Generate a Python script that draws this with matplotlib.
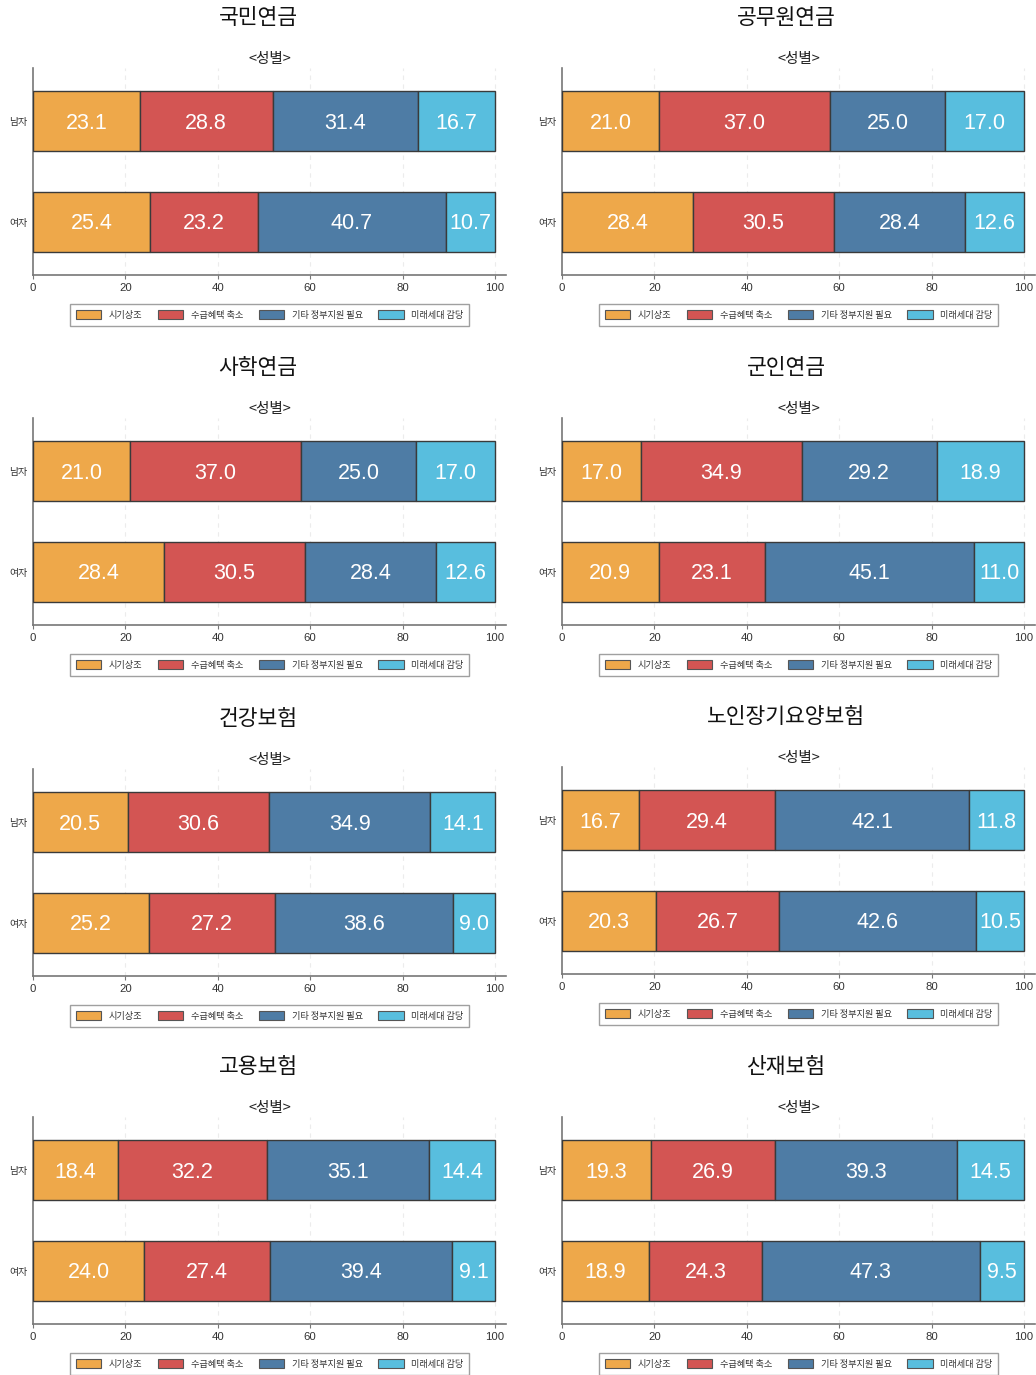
import matplotlib
matplotlib.use("Agg")
import matplotlib.pyplot as plt
from matplotlib.patches import Patch

# ---- data -------------------------------------------------------------
titles = ["국민연금", "공무원연금", "사학연금", "군인연금",
          "건강보험", "노인장기요양보험", "고용보험", "산재보험"]
subtitle = "<성별>"
groups = ["남자", "여자"]
categories = ["시기상조", "수급혜택 축소", "기타 정부지원 필요", "미래세대 감당"]

male = [
    [23.1, 28.8, 31.4, 16.7],
    [21.0, 37.0, 25.0, 17.0],
    [21.0, 37.0, 25.0, 17.0],
    [17.0, 34.9, 29.2, 18.9],
    [20.5, 30.6, 34.9, 14.1],
    [16.7, 29.4, 42.1, 11.8],
    [18.4, 32.2, 35.1, 14.4],
    [19.3, 26.9, 39.3, 14.5],
]
female = [
    [25.4, 23.2, 40.7, 10.7],
    [28.4, 30.5, 28.4, 12.6],
    [28.4, 30.5, 28.4, 12.6],
    [20.9, 23.1, 45.1, 11.0],
    [25.2, 27.2, 38.6, 9.0],
    [20.3, 26.7, 42.6, 10.5],
    [24.0, 27.4, 39.4, 9.1],
    [18.9, 24.3, 47.3, 9.5],
]
xticks = [0, 20, 40, 60, 80, 100]

colors = ["#EEA84A", "#D35553", "#4E7CA5", "#58BEDE"]

# ---- layout (pixels) --------------------------------------------------
W, H = 1036, 1375
fig = plt.figure(figsize=(W / 100, H / 100), dpi=100)

KR = ["Noto Sans CJK KR", "DejaVu Sans"]
NUM = ["Liberation Sans", "DejaVu Sans"]

col_left = [33, 562]
col_center = [258, 786]
row_top = [[68, 68], [418, 418], [769, 767], [1117, 1117]]
span = 462          # pixels for 0..100
ax_w = span * 1.024
ax_h = 207


def px_axes(left, top, width, height):
    return fig.add_axes([left / W, 1 - (top + height) / H, width / W, height / H])


for i, title in enumerate(titles):
    r, c = divmod(i, 2)
    left = col_left[c]
    top = row_top[r][c]
    ax = px_axes(left, top, ax_w, ax_h)

    ypos = [1, 0]
    rows = [male[i], female[i]]
    for y, vals in zip(ypos, rows):
        start = 0.0
        for k, v in enumerate(vals):
            ax.barh(y, v, left=start, height=0.6, color=colors[k],
                    edgecolor="#3a3a3a", linewidth=1.0, zorder=3)
            ax.text(start + v / 2, y - 0.02, f"{v:.1f}", ha="center",
                    va="center", color="white", fontsize=15.5, family=NUM,
                    zorder=4)
            start += v

    ax.set_xlim(0, 102.4)
    ax.set_ylim(-0.53, 1.53)
    ax.set_yticks(ypos)
    ax.set_yticklabels(groups, family=KR, fontsize=7.2, color="#333333")
    ax.set_xticks(xticks)
    ax.set_xticklabels([str(t) for t in xticks], family=NUM, fontsize=8.2,
                       color="#333333")
    ax.tick_params(axis="y", length=0, pad=4)
    ax.tick_params(axis="x", length=3, width=0.8, color="#777777", pad=3)
    for t in xticks[1:]:
        ax.axvline(t, color="#ececec", linestyle=(0, (4, 4)), linewidth=0.8,
                   zorder=1)
    for s in ["top", "right"]:
        ax.spines[s].set_visible(False)
    for s in ["left", "bottom"]:
        ax.spines[s].set_color("#777777")
        ax.spines[s].set_linewidth(1.2)

    axis_cx = (left + left + ax_w) / 2
    fig.text(col_center[c] / W, 1 - (top - 50) / H, title, ha="center",
             va="center", fontsize=15.5, family=KR, color="#111111")
    fig.text(axis_cx / W, 1 - (top - 9) / H, subtitle, ha="center",
             va="center", fontsize=10.5, family=KR, color="#222222")

    handles = [Patch(facecolor=colors[k], edgecolor="#555555", linewidth=0.8,
                     label=categories[k]) for k in range(4)]
    leg = fig.legend(handles=handles, loc="center", ncol=4,
                     bbox_to_anchor=(axis_cx / W, 1 - (top + ax_h + 40) / H),
                     prop={"family": KR, "size": 6.6}, frameon=True,
                     fancybox=False, handlelength=2.8, handleheight=1.1,
                     handletextpad=0.8, columnspacing=1.7, borderpad=0.65,
                     borderaxespad=0)
    leg.get_frame().set_edgecolor("#888888")
    leg.get_frame().set_linewidth(1.0)
    for txt in leg.get_texts():
        txt.set_color("#333333")

fig.savefig("out.png", dpi=100)
